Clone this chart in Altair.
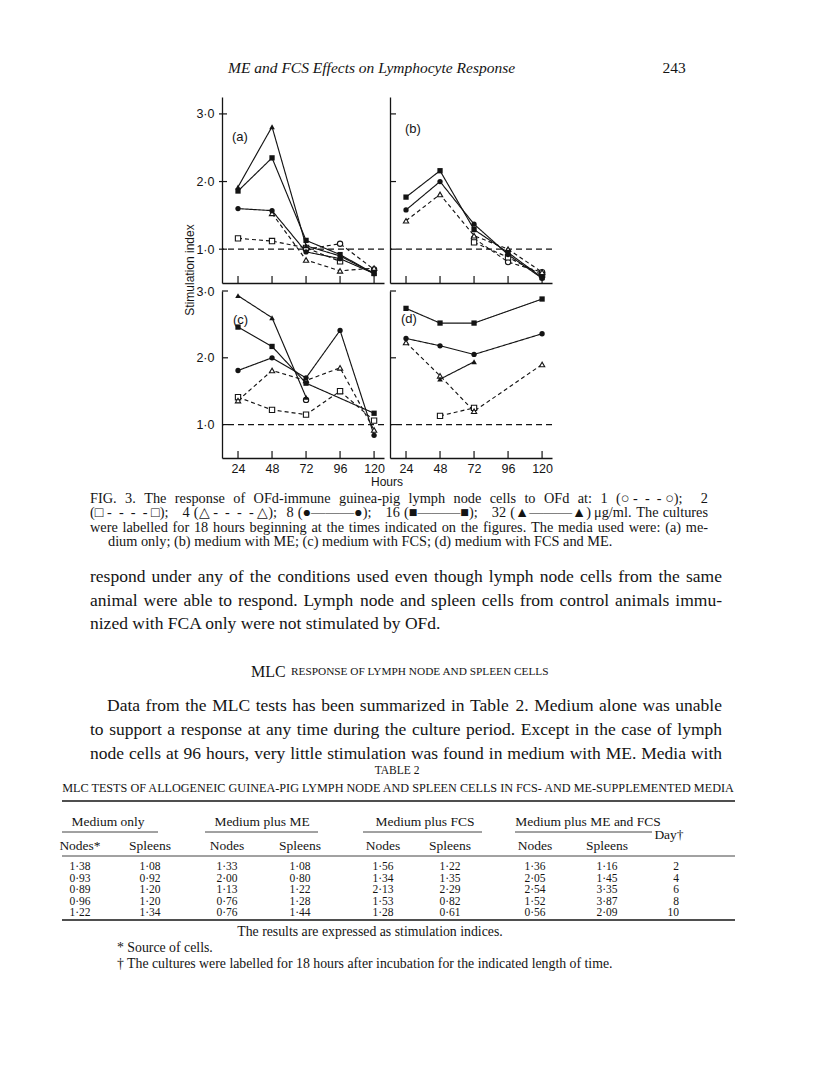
import altair as alt
import pandas as pd

# ---------------- data ----------------
hours = [24, 48, 72, 96, 120]
doses = ["1", "2", "4", "8", "16", "32"]

panel_a = {
    "1": [None, None, 1.00, 1.08, 0.70],
    "2": [1.16, 1.12, 1.02, 0.82, None],
    "4": [None, 1.53, 0.84, 0.68, 0.72],
    "8": [1.60, 1.57, 0.96, 0.86, 0.64],
    "16": [1.86, 2.35, 1.13, 0.92, 0.64],
    "32": [1.92, 2.81, 1.05, 0.90, 0.64],
}
panel_b = {
    "1": [None, None, 1.16, 0.81, 0.66],
    "2": [None, None, 1.10, 0.88, 0.62],
    "4": [1.42, 1.81, 1.20, 1.00, 0.66],
    "8": [1.58, 2.00, 1.37, 0.92, 0.57],
    "16": [1.77, 2.16, 1.29, 0.95, 0.58],
}
panel_c = {
    "1": [None, None, 1.37, None, None],
    "2": [1.41, 1.22, 1.15, 1.50, 1.06],
    "4": [1.36, 1.81, 1.66, 1.85, 0.92],
    "8": [1.81, 2.00, 1.70, 2.41, 0.84],
    "16": [2.46, 2.17, 1.62, None, 1.17],
    "32": [2.93, 2.60, 1.41, None, None],
}
panel_d = {
    "2": [None, 1.13, 1.25, None, None],
    "4": [2.23, 1.73, 1.20, None, 1.90],
    "8": [2.29, 2.18, 2.05, None, 2.36],
    "16": [2.74, 2.52, 2.52, None, 2.88],
    "32": [None, 1.68, 1.94, None, None],
}
y_ticks = [1.0, 2.0, 3.0]

# Table 2 values
days = [2, 4, 6, 8, 10]
med_nodes = [1.38, 0.93, 0.89, 0.96, 1.22]
med_spleens = [1.08, 0.92, 1.20, 1.20, 1.34]
me_nodes = [1.33, 2.00, 1.13, 0.76, 0.76]
me_spleens = [1.08, 0.80, 1.22, 1.28, 1.44]
fcs_nodes = [1.56, 1.34, 2.13, 1.53, 1.28]
fcs_spleens = [1.22, 1.35, 2.29, 0.82, 0.61]
mefcs_nodes = [1.36, 2.05, 2.54, 1.52, 0.56]
mefcs_spleens = [1.16, 1.45, 3.35, 3.87, 2.09]

NB = "\u00a0"
D3 = NB + "-" + NB * 2 + "-" + NB * 2 + "-" + NB
D4 = NB + "-" + NB * 2 + "-" + NB * 2 + "-" + NB * 2 + "-" + NB
SOLID = "\u2014\u2014\u2014"
header_title = "ME and FCS Effects on Lymphocyte Response"
page_number = "243"
caption_lines = [
    "FIG. 3. The response of OFd-immune guinea-pig lymph node cells to OFd at: 1 (\u25cb" + D3 + "\u25cb); 2",
    "(\u25a1" + D4 + "\u25a1); 4 (\u25b3" + D4 + "\u25b3); 8 (\u25cf" + SOLID + "\u25cf); 16 (\u25a0" + SOLID
    + "\u25a0); 32 (\u25b2" + SOLID + "\u25b2) \u03bcg/ml. The cultures",
    "were labelled for 18 hours beginning at the times indicated on the figures. The media used were: (a) me-",
    "dium only; (b) medium with ME; (c) medium with FCS; (d) medium with FCS and ME.",
]
para1 = [
    "respond under any of the conditions used even though lymph node cells from the same",
    "animal were able to respond. Lymph node and spleen cells from control animals immu-",
    "nized with FCA only were not stimulated by OFd.",
]
heading_big = "MLC"
heading_small = "RESPONSE OF LYMPH NODE AND SPLEEN CELLS"
para2 = [
    "Data from the MLC tests has been summarized in Table 2. Medium alone was unable",
    "to support a response at any time during the culture period. Except in the case of lymph",
    "node cells at 96 hours, very little stimulation was found in medium with ME. Media with",
]
table_label = "TABLE 2"
table_title = "MLC TESTS OF ALLOGENEIC GUINEA-PIG LYMPH NODE AND SPLEEN CELLS IN FCS- AND ME-SUPPLEMENTED MEDIA"
group_headers = ["Medium only", "Medium plus ME", "Medium plus FCS", "Medium plus ME and FCS"]
sub_headers = ["Nodes*", "Spleens", "Nodes", "Spleens", "Nodes", "Spleens", "Nodes", "Spleens"]
table_note = "The results are expressed as stimulation indices."
footnotes = ["* Source of cells.",
             "\u2020 The cultures were labelled for 18 hours after incubation for the indicated length of time."]

# ---------------- styling ----------------
SERIF = "Liberation Serif"
SANS = "Liberation Sans"
INK = "#141414"
XDOM = [12.7, 127.0]
TOP_DOM = [0.5, 3.25]
BOT_DOM = [0.5, 3.0]
PW = 162
TOP_H = 186
BOT_H = 167
OX, OY = 222, 97          # page position of panel (a)'s plot origin
open_doses = {"1", "2", "4"}
shape_of = {"1": "circle", "2": "square", "4": "triangle-up",
            "8": "circle", "16": "square", "32": "triangle-up"}

# approximate advance widths (1/1000 em) of the Times-metric serif face, used to justify lines
_W = {" ": 250, NB: 250, "a": 444, "b": 500, "c": 444, "d": 500, "e": 444, "f": 333, "g": 500,
      "h": 500, "i": 278, "j": 278, "k": 500, "l": 278, "m": 778, "n": 500, "o": 500, "p": 500,
      "q": 500, "r": 333, "s": 389, "t": 278, "u": 500, "v": 500, "w": 722, "x": 500, "y": 500,
      "z": 444, "A": 722, "B": 667, "C": 667, "D": 722, "E": 611, "F": 556, "G": 722, "H": 722,
      "I": 333, "J": 389, "K": 722, "L": 611, "M": 889, "N": 722, "O": 722, "P": 556, "Q": 722,
      "R": 667, "S": 556, "T": 611, "U": 722, "V": 722, "W": 944, "X": 722, "Y": 722, "Z": 611,
      ".": 250, ",": 250, ":": 278, ";": 278, "-": 333, "(": 333, ")": 333, "/": 278,
      "\u2014": 1000, "\u03bc": 576}


def text_width(s, size):
    total = 0
    for ch in s:
        if ch.isdigit():
            total += 500
        else:
            total += _W.get(ch, 950)
    return total * size / 1000.0


def txt(text, px, py, size, font=SERIF, align="left", style="normal", angle=0, color=INK):
    kw = dict(font=font, fontSize=size, align=align, baseline="middle", fontStyle=style, color=color)
    if angle:
        kw["angle"] = angle
    return alt.Chart(pd.DataFrame({"t": [text]})).mark_text(**kw).encode(
        text="t:N", x=alt.value(px - OX), y=alt.value(py - OY))


def justified(line, px0, px1, py, size):
    words = line.split(" ")
    widths = [text_width(w, size) for w in words]
    gap = (px1 - px0 - sum(widths)) / max(len(words) - 1, 1)
    out = []
    x = px0
    for w, wd in zip(words, widths):
        out.append(txt(w, x, py, size))
        x += wd + gap
    return out


def hrule(px1, px2, py, w):
    return alt.Chart(pd.DataFrame({"t": [0]})).mark_rule(color=INK, strokeWidth=w).encode(
        x=alt.value(px1 - OX), x2=alt.value(px2 - OX), y=alt.value(py - OY))


def panel_frame(vals):
    rows = []
    for d, series in vals.items():
        for h, v in zip(hours, series):
            if v is not None:
                rows.append({"hour": h, "si": v, "dose": d})
    return pd.DataFrame(rows)


def make_panel(vals, ydom, height, letter, lab_xy, xlabels, ylabels, ytick_x, extra=()):
    df = panel_frame(vals)
    xs = alt.Scale(domain=XDOM, nice=False, zero=False)
    ys = alt.Scale(domain=ydom, nice=False, zero=False)
    xaxis = alt.Axis(values=hours, ticks=False, tickSize=0, labels=xlabels, labelPadding=4,
                     labelFontSize=12.5, labelFont=SANS, labelColor=INK, domainColor=INK,
                     domainWidth=1.3, grid=False, title=None, labelFlush=False)
    yaxis = alt.Axis(values=y_ticks, ticks=False, tickSize=0, labels=ylabels,
                     labelExpr="replace(format(datum.value, '.1f'), '.', '\u00b7')",
                     labelPadding=8, labelFontSize=12.5, labelFont=SANS, labelColor=INK,
                     domainColor=INK, domainWidth=1.3, grid=False, title=None)
    X = alt.X("hour:Q", scale=xs, axis=xaxis)
    Y = alt.Y("si:Q", scale=ys, axis=yaxis)

    layers = list(extra)
    ref = alt.Chart(pd.DataFrame({"si": [1.0]})).mark_rule(
        color=INK, strokeWidth=1.2, strokeDash=[6, 4]).encode(y=Y)
    layers.append(ref)
    xt = alt.Chart(pd.DataFrame({"hour": hours})).mark_rule(color=INK, strokeWidth=1.2).encode(
        x=X, y=alt.value(height), y2=alt.value(height - 7))
    layers.append(xt)
    yt_vals = [t for t in y_ticks if t <= ydom[1]]
    yt = alt.Chart(pd.DataFrame({"si": yt_vals})).mark_rule(color=INK, strokeWidth=1.2).encode(
        y=Y, x=alt.value(ytick_x[0]), x2=alt.value(ytick_x[1]))
    layers.append(yt)

    for d in doses:
        sub = df[df["dose"] == d]
        if sub.empty:
            continue
        dash = [4, 3] if d in open_doses else [1, 0]
        line = alt.Chart(sub).mark_line(color=INK, strokeWidth=1.15, strokeDash=dash).encode(
            x=X, y=Y, order="hour:Q")
        layers.append(line)
    for d in doses:
        sub = df[df["dose"] == d]
        if sub.empty:
            continue
        if d in open_doses:
            pt = alt.Chart(sub).mark_point(shape=shape_of[d], filled=True, fill="white",
                                           stroke=INK, strokeWidth=1.1, size=28, opacity=1)
        else:
            pt = alt.Chart(sub).mark_point(shape=shape_of[d], filled=True, color=INK,
                                           size=28 if d != "32" else 32, opacity=1)
        layers.append(pt.encode(x=X, y=Y))

    lab = alt.Chart(pd.DataFrame({"t": [letter]})).mark_text(
        font=SANS, fontSize=13, align="left", baseline="middle", color=INK).encode(
        text="t:N", x=alt.value(lab_xy[0]), y=alt.value(lab_xy[1]))
    layers.append(lab)
    return alt.layer(*layers).properties(width=PW, height=height)


# ---------------- page text (positioned in page pixels, drawn with panel (a)) ----------------
page = []
# invisible frame so that the page origin stays at the top-left corner
page.append(alt.Chart(pd.DataFrame({"t": [0]})).mark_rect(opacity=0).encode(
    x=alt.value(8 - OX), x2=alt.value(808 - OX), y=alt.value(8 - OY), y2=alt.value(1071 - OY)))
page.append(txt(header_title, 228, 68, 15.5, style="italic"))
page.append(txt(page_number, 674, 68, 15.5, align="center"))
page.append(txt("Stimulation index", 190, 270, 12, font=SANS, align="center", angle=270))
page.append(txt("Hours", 387, 482, 12, font=SANS, align="center"))

CAP = 14.3
for i, line in enumerate(caption_lines):
    y = 499 + 14.4 * i
    if i < 3:
        page.extend(justified(line, 90, 708, y, CAP))
    else:
        page.append(txt(line, 108, y, CAP))

BODY = 17.5
for i, line in enumerate(para1):
    y = 577 + 23.5 * i
    if i < 2:
        page.extend(justified(line, 90, 722, y, BODY))
    else:
        page.append(txt(line, 90, y, BODY))
page.append(txt(heading_big, 251, 672, 16))
page.append(txt(heading_small, 291, 672, 11.3))
for i, line in enumerate(para2):
    y = 706 + 23.8 * i
    page.extend(justified(line, 107 if i == 0 else 90, 722, y, BODY))

page.append(txt(table_label, 397, 771, 11.5, align="center"))
page.append(txt(table_title, 398, 788, 12.2, align="center"))
page.append(hrule(62, 735, 801, 1.6))
group_x = [108, 262, 425, 588]
group_span = [(62, 158), (205, 318), (363, 482), (515, 652)]
for g, gx, (s0, s1) in zip(group_headers, group_x, group_span):
    page.append(txt(g, gx, 822, 13.5, align="center"))
    page.append(hrule(s0, s1, 832, 0.8))
page.append(txt("Day\u2020", 669, 835, 13.5, align="center"))
col_x = [80, 150, 227, 300, 383, 450, 535, 607]
for h, cx in zip(sub_headers, col_x):
    page.append(txt(h, cx, 846, 13.5, align="center"))
page.append(hrule(62, 735, 856, 0.8))
cols = [med_nodes, med_spleens, me_nodes, me_spleens, fcs_nodes, fcs_spleens, mefcs_nodes, mefcs_spleens]
ROW0, ROWD = 867, 11.6
for col, cx in zip(cols, col_x):
    for i, v in enumerate(col):
        s = f"{v:.2f}".replace(".", "\u00b7")
        page.append(txt(s, cx, ROW0 + ROWD * i, 11.5, align="center"))
for i, d in enumerate(days):
    page.append(txt(str(d), 679, ROW0 + ROWD * i, 11.5, align="right"))
page.append(hrule(62, 735, 920, 1.6))
page.append(txt(table_note, 370, 932, 13.8, align="center"))
page.append(txt(footnotes[0], 117, 948, 13.8))
page.append(txt(footnotes[1], 117, 964, 13.8))

pa = make_panel(panel_a, TOP_DOM, TOP_H, "(a)", (10, 40), False, True, (-3, 5), extra=page)
pb = make_panel(panel_b, TOP_DOM, TOP_H, "(b)", (15, 32), False, False, (0, 6))
pc = make_panel(panel_c, BOT_DOM, BOT_H, "(c)", (11, 29), True, True, (0, 6))
pdd = make_panel(panel_d, BOT_DOM, BOT_H, "(d)", (11, 28), True, False, (0, 6))

chart = alt.concat(pa, pb, pc, pdd, columns=2, spacing={"row": 8, "column": 6},
                   bounds="flush", padding=0, background="white").configure_view(stroke=None)

chart.save("out.html", embed_options={"renderer": "svg", "actions": False})
